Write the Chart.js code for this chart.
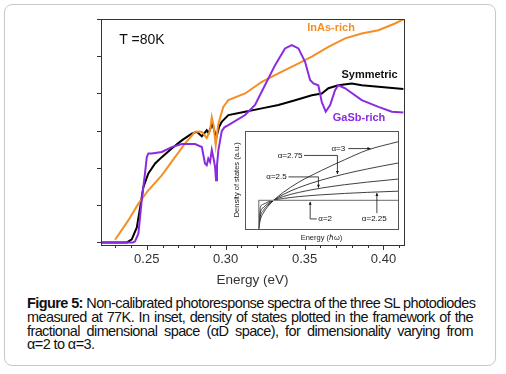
<!DOCTYPE html>
<html>
<head>
<meta charset="utf-8">
<script src="https://cdn.jsdelivr.net/npm/chart.js@4"></script>
<style>
  body { margin: 0; background: #fff; font-family: "Liberation Sans", Arial, sans-serif; }
  #card { position: absolute; left: 4px; top: 4px; width: 490px; height: 360px; border: 1.5px solid #c8c8c8; border-radius: 8px; }
  #main { position: absolute; left: 0; top: 0; }
  #inset { position: absolute; left: 228px; top: 128px; }
  #caption { position: absolute; left: 27px; top: 296.7px; width: 446px; font-size: 14.5px; line-height: 13.9px;
             letter-spacing: -0.6px; color: #111; }
  #caption div { white-space: nowrap; text-align: justify; text-align-last: justify; }
  #caption div.last { text-align-last: left; }
</style>
</head>
<body>
<div id="card"></div>
<canvas id="main" width="506" height="290"></canvas>
<canvas id="inset" width="172" height="116"></canvas>
<div id="caption">
  <div><b>Figure 5:</b> Non-calibrated photoresponse spectra of the three SL photodiodes</div>
  <div>measured at 77K. In inset, density of states plotted in the framework of the</div>
  <div>fractional dimensional space (αD space), for dimensionality varying from</div>
  <div class="last">α=2 to α=3.</div>
</div>
<script>
// photoresponse (energy in eV, response in arbitrary units)
var inAsEnergy = [0.2299, 0.2383, 0.2447, 0.2510, 0.2595, 0.2679, 0.2743, 0.2806, 0.2849, 0.2880, 0.2901, 0.2912, 0.2923, 0.2937, 0.2952, 0.2971, 0.2985, 0.3017, 0.3123, 0.3229, 0.3334, 0.3440, 0.3546, 0.3651, 0.3757, 0.3862, 0.3968, 0.4073, 0.4126];
var inAsResp = [0.07, 0.59, 1.04, 1.40, 1.80, 2.29, 2.66, 2.97, 2.97, 2.80, 3.01, 3.36, 3.15, 2.61, 3.15, 3.44, 3.64, 3.82, 4.00, 4.31, 4.54, 4.76, 4.99, 5.25, 5.48, 5.61, 5.70, 5.88, 5.99];

var symEnergy = [0.221, 0.2375, 0.2405, 0.2437, 0.2458, 0.2478, 0.2510, 0.2553, 0.2595, 0.2658, 0.2722, 0.2785, 0.2817, 0.2849, 0.2880, 0.2892, 0.2904, 0.2914, 0.2927, 0.2940, 0.2958, 0.2975, 0.3017, 0.3123, 0.3229, 0.3334, 0.3440, 0.3546, 0.3609, 0.3651, 0.3714, 0.3799, 0.3862, 0.3968, 0.4126];
var symResp = [0, 0, 0.08, 0.40, 0.94, 1.48, 1.85, 2.12, 2.29, 2.52, 2.74, 2.92, 2.97, 2.85, 3.01, 2.93, 3.07, 3.20, 3.02, 2.80, 3.10, 3.24, 3.42, 3.51, 3.60, 3.69, 3.82, 3.95, 4.00, 4.14, 4.22, 4.27, 4.22, 4.18, 4.12];

var gasbEnergy = [0.221, 0.2413, 0.2426, 0.2447, 0.2468, 0.2489, 0.2500, 0.2510, 0.2532, 0.2595, 0.2658, 0.2722, 0.2806, 0.2849, 0.2869, 0.2880, 0.2890, 0.2901, 0.2912, 0.2923, 0.2933, 0.2939, 0.2945, 0.2954, 0.2975, 0.2992, 0.3017, 0.3123, 0.3186, 0.3249, 0.3313, 0.3376, 0.3419, 0.3461, 0.3503, 0.3535, 0.3556, 0.3587, 0.3609, 0.3634, 0.3662, 0.3693, 0.3714, 0.3757, 0.3862, 0.3968, 0.4053, 0.4126];
var gasbResp = [0, 0, 0.03, 0.24, 1.13, 1.86, 2.29, 2.39, 2.39, 2.43, 2.56, 2.64, 2.64, 2.56, 2.12, 2.07, 2.25, 2.16, 2.48, 2.26, 2.02, 1.67, 2.07, 2.48, 2.99, 3.09, 3.15, 3.42, 3.69, 4.22, 4.76, 5.21, 5.30, 5.21, 4.85, 4.36, 4.27, 4.22, 3.77, 3.51, 3.69, 4.09, 4.22, 4.14, 3.82, 3.64, 3.51, 3.49];

var xMajorTicks = [0.25, 0.30, 0.35, 0.40];
var xMinorTicks = [0.23, 0.24, 0.26, 0.27, 0.28, 0.29, 0.31, 0.32, 0.33, 0.34, 0.36, 0.37, 0.38, 0.39, 0.41];
var yTicks = [0, 1, 2, 3, 4, 5, 6];

// inset: density of states vs energy (both 0..100 of the inset box)
var insetEnergy = [9, 10, 12, 15, 18.7, 25, 35, 50, 65, 80, 100];
var dosA3 = [0, 9.3, 16.1, 22.8, 29, 37.2, 47.5, 59.6, 70.5, 80.5, 89];
var dosA275 = [0, 12.4, 18.7, 24.2, 29, 35.0, 42.0, 49.8, 56.0, 61.2, 67.2];
var dosA25 = [0, 16.4, 21.6, 25.7, 29, 32.9, 37.1, 41.6, 45.0, 47.7, 50.8];
var dosA225 = [0, 21.8, 25.0, 27.3, 29, 30.9, 32.8, 34.7, 36.1, 37.2, 38.4];
var stepEnergy = [9, 9, 100];
var dosA2 = [0, 29, 29];

function pts(xs, ys) {
  return xs.map(function (x, i) { return { x: x, y: ys[i] }; });
}

var ORANGE = "#f58f25";
var PURPLE = "#8a2be2";

var curveLabels = [
  { text: "T =80K", x: 0.2325, y: 5.43, color: "#111", font: "14px 'Liberation Sans', Arial", align: "left" },
  { text: "InAs-rich", x: 0.3668, y: 5.76, color: ORANGE, font: "bold 11px 'Liberation Sans', Arial", align: "center" },
  { text: "Symmetric", x: 0.3912, y: 4.49, color: "#111", font: "bold 11px 'Liberation Sans', Arial", align: "center" },
  { text: "GaSb-rich", x: 0.3845, y: 3.34, color: PURPLE, font: "bold 11px 'Liberation Sans', Arial", align: "center" },
];

var frameTicks = {
  id: "frameTicks",
  afterDraw: function (chart) {
    var ctx = chart.ctx, a = chart.chartArea, x = chart.scales.x, y = chart.scales.y;
    ctx.save();
    ctx.strokeStyle = "#333";
    ctx.lineWidth = 1;
    ctx.strokeRect(Math.round(a.left) + 0.5, Math.round(a.top) + 0.5, Math.round(a.right - a.left), Math.round(a.bottom - a.top));
    ctx.beginPath();
    xMajorTicks.forEach(function (v) {
      var px = Math.round(x.getPixelForValue(v)) + 0.5;
      ctx.moveTo(px, a.bottom); ctx.lineTo(px, a.bottom + 5);
    });
    xMinorTicks.forEach(function (v) {
      var px = Math.round(x.getPixelForValue(v)) + 0.5;
      ctx.moveTo(px, a.bottom); ctx.lineTo(px, a.bottom + 3);
    });
    yTicks.forEach(function (v) {
      var py = Math.round(y.getPixelForValue(v)) + 0.5;
      ctx.moveTo(a.left, py); ctx.lineTo(a.left - 4, py);
    });
    ctx.stroke();
    ctx.textBaseline = "middle";
    curveLabels.forEach(function (l) {
      ctx.font = l.font;
      ctx.fillStyle = l.color;
      ctx.textAlign = l.align;
      ctx.fillText(l.text, x.getPixelForValue(l.x), y.getPixelForValue(l.y));
    });
    ctx.restore();
  },
};

new Chart(document.getElementById("main"), {
  type: "line",
  data: {
    datasets: [
      { label: "GaSb-rich", data: pts(gasbEnergy, gasbResp), borderColor: PURPLE },
      { label: "InAs-rich", data: pts(inAsEnergy, inAsResp), borderColor: ORANGE },
      { label: "Symmetric", data: pts(symEnergy, symResp), borderColor: "#000" },
    ],
  },
  options: {
    responsive: false,
    animation: false,
    layout: { padding: { left: 91, right: 102, top: 19, bottom: 0 } },
    elements: { point: { radius: 0 }, line: { borderWidth: 2, tension: 0 } },
    plugins: { legend: { display: false }, tooltip: { enabled: false } },
    scales: {
      x: {
        type: "linear",
        min: 0.221,
        max: 0.413,
        grid: { display: false, drawTicks: false },
        border: { display: false },
        afterBuildTicks: function (s) { s.ticks = xMajorTicks.map(function (v) { return { value: v }; }); },
        afterFit: function (s) { s.height = 45; },
        ticks: {
          padding: 7,
          color: "#333",
          font: { size: 13, family: "'Liberation Sans', Arial" },
          callback: function (v) { return v.toFixed(2); },
        },
        title: {
          display: true,
          text: "Energy (eV)",
          color: "#333",
          font: { size: 13.5, family: "'Liberation Sans', Arial" },
          padding: { top: 0, bottom: 2 },
        },
      },
      y: {
        min: -0.07,
        max: 6.0,
        grid: { display: false, drawTicks: false },
        border: { display: false },
        ticks: { display: false },
        afterBuildTicks: function (s) { s.ticks = yTicks.map(function (v) { return { value: v }; }); },
        afterFit: function (s) { s.width = 10; },
      },
    },
  },
  plugins: [frameTicks],
});

// inset annotations: label centre and arrow path, in inset data units
var insetNotes = [
  { text: "α=3", at: [61, 82], path: [[67.5, 82], [82, 82]] },
  { text: "α=2.75", at: [29.5, 75], path: [[38.6, 75], [60.4, 75], [60.4, 56]] },
  { text: "α=2.5", at: [20.6, 53], path: [[28.4, 53], [48, 53], [48, 42]] },
  { text: "α=2", at: [52.4, 10], path: [[46.9, 10], [42.6, 10], [42.6, 27.5]] },
  { text: "α=2.25", at: [84.5, 10], path: [[86.2, 16], [86.2, 36.5]] },
];

var insetDeco = {
  id: "insetDeco",
  beforeDatasetsDraw: function (chart) {
    var ctx = chart.ctx, a = chart.chartArea;
    ctx.save();
    ctx.fillStyle = "#fff";
    ctx.fillRect(a.left, a.top, a.right - a.left, a.bottom - a.top);
    ctx.restore();
  },
  afterDraw: function (chart) {
    var ctx = chart.ctx, a = chart.chartArea, x = chart.scales.x, y = chart.scales.y;
    ctx.save();
    ctx.strokeStyle = "#555";
    ctx.lineWidth = 1;
    ctx.strokeRect(Math.round(a.left) + 0.5, Math.round(a.top) + 0.5, Math.round(a.right - a.left), Math.round(a.bottom - a.top));
    ctx.strokeStyle = "#111";
    ctx.fillStyle = "#111";
    ctx.lineWidth = 0.8;
    insetNotes.forEach(function (n) {
      var p = n.path.map(function (q) { return [x.getPixelForValue(q[0]), y.getPixelForValue(q[1])]; });
      ctx.beginPath();
      ctx.moveTo(p[0][0], p[0][1]);
      for (var i = 1; i < p.length; i++) ctx.lineTo(p[i][0], p[i][1]);
      ctx.stroke();
      var e = p[p.length - 1], s = p[p.length - 2];
      var ang = Math.atan2(e[1] - s[1], e[0] - s[0]);
      ctx.beginPath();
      ctx.moveTo(e[0], e[1]);
      ctx.lineTo(e[0] - 3 * Math.cos(ang) + 1.5 * Math.sin(ang), e[1] - 3 * Math.sin(ang) - 1.5 * Math.cos(ang));
      ctx.lineTo(e[0] - 3 * Math.cos(ang) - 1.5 * Math.sin(ang), e[1] - 3 * Math.sin(ang) + 1.5 * Math.cos(ang));
      ctx.closePath();
      ctx.fill();
      ctx.font = "8px 'Liberation Sans', Arial";
      ctx.textAlign = "center";
      ctx.textBaseline = "middle";
      ctx.fillText(n.text, x.getPixelForValue(n.at[0]), y.getPixelForValue(n.at[1]));
    });
    ctx.restore();
  },
};

new Chart(document.getElementById("inset"), {
  type: "line",
  data: {
    datasets: [
      { data: pts(stepEnergy, dosA2), borderColor: "#888", borderWidth: 1.3, tension: 0 },
      { data: pts(insetEnergy, dosA225), borderColor: "#111" },
      { data: pts(insetEnergy, dosA25), borderColor: "#111" },
      { data: pts(insetEnergy, dosA275), borderColor: "#111" },
      { data: pts(insetEnergy, dosA3), borderColor: "#111" },
    ],
  },
  options: {
    responsive: false,
    animation: false,
    layout: { padding: { left: 0, right: 2, top: 3, bottom: 0 } },
    elements: { point: { radius: 0 }, line: { borderWidth: 0.8, cubicInterpolationMode: "monotone" } },
    plugins: { legend: { display: false }, tooltip: { enabled: false } },
    scales: {
      x: {
        type: "linear", min: 0, max: 100,
        grid: { display: false, drawTicks: false }, border: { display: false },
        ticks: { display: false },
        afterFit: function (s) { s.height = 15.3; },
        title: { display: true, text: "Energy (ℏω)", color: "#222", font: { size: 7.5, family: "'Liberation Sans', Arial" }, padding: { top: 0, bottom: 1.5 } },
      },
      y: {
        min: 0, max: 100,
        grid: { display: false, drawTicks: false }, border: { display: false },
        ticks: { display: false },
        afterFit: function (s) { s.width = 17; },
        title: { display: true, text: "Density of states (a.u.)", color: "#222", font: { size: 7.5, family: "'Liberation Sans', Arial" }, padding: { top: 4, bottom: 0 } },
      },
    },
  },
  plugins: [insetDeco],
});
</script>
</body>
</html>
